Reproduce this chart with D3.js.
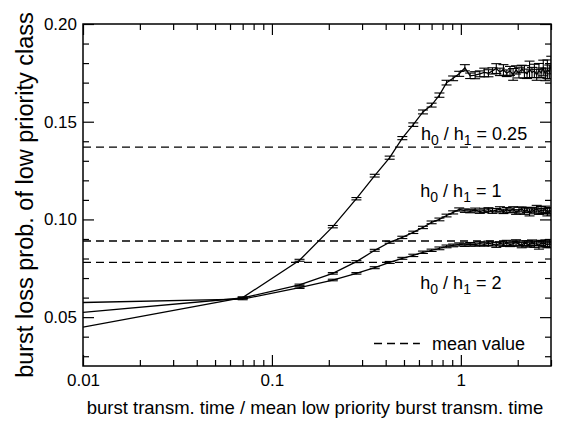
<!DOCTYPE html>
<html>
<head>
<meta charset="utf-8">
<script src="https://cdn.jsdelivr.net/npm/d3@7"></script>
<style>
  body { margin: 0; background: #ffffff; }
  svg { display: block; font-family: "Liberation Sans", Arial, Helvetica, sans-serif; }
  .axis text { font-size: 17px; fill: #000; }
  .axis line { stroke: #000; stroke-width: 1.2; }
</style>
</head>
<body>
<svg id="chart"></svg>
<script>
// burst transm. time / mean low priority burst transm. time
const xValues = [0.01, 0.07, 0.14, 0.21, 0.28, 0.35, 0.42, 0.49, 0.56, 0.63, 0.70, 0.77, 0.84, 0.91, 0.98,
  1.05, 1.12, 1.19, 1.26, 1.33, 1.40, 1.47, 1.54, 1.61, 1.68, 1.75, 1.82, 1.89, 1.96, 2.03,
  2.10, 2.17, 2.24, 2.31, 2.38, 2.45, 2.52, 2.59, 2.66, 2.73, 2.80, 2.87, 2.94, 3.01];

// h0 / h1 = 0.25
const lossA = [0.0449, 0.0600, 0.0791, 0.0963, 0.1106, 0.1224, 0.1316, 0.1416, 0.1485, 0.1550, 0.1585, 0.1636, 0.1700, 0.1722, 0.1745,
  0.1776, 0.1735, 0.1738, 0.1745, 0.1752, 0.1748, 0.1760, 0.1772, 0.1755, 0.1765, 0.1748, 0.1760, 0.1742, 0.1765, 0.1750,
  0.1770, 0.1755, 0.1745, 0.1768, 0.1752, 0.1760, 0.1740, 0.1762, 0.1750, 0.1775, 0.1742, 0.1768, 0.1755, 0.1790];
const errA = [0.0003, 0.0004, 0.0005, 0.0006, 0.0006, 0.0007, 0.0008, 0.0008, 0.0009, 0.0010, 0.0010, 0.0011, 0.0012, 0.0012, 0.0013,
  0.0016, 0.0014, 0.0018, 0.0015, 0.0022, 0.0018, 0.0016, 0.0025, 0.0019, 0.0027, 0.0017, 0.0023, 0.0030, 0.0021, 0.0026,
  0.0019, 0.0032, 0.0024, 0.0042, 0.0026, 0.0034, 0.0028, 0.0036, 0.0025, 0.0040, 0.0032, 0.0048, 0.0035, 0.0045];

// h0 / h1 = 1
const lossB = [0.0524, 0.0598, 0.0665, 0.0724, 0.0784, 0.0842, 0.0883, 0.0908, 0.0934, 0.0959, 0.0985, 0.1000, 0.1020, 0.1036, 0.1051,
  0.1045, 0.1042, 0.1048, 0.1040, 0.1046, 0.1050, 0.1043, 0.1047, 0.1052, 0.1041, 0.1049, 0.1044, 0.1051, 0.1038, 0.1047,
  0.1053, 0.1042, 0.1048, 0.1036, 0.1050, 0.1044, 0.1055, 0.1040, 0.1047, 0.1043, 0.1052, 0.1038, 0.1046, 0.1041];
const errB = [0.0003, 0.0003, 0.0004, 0.0004, 0.0005, 0.0005, 0.0005, 0.0006, 0.0006, 0.0006, 0.0007, 0.0007, 0.0007, 0.0008, 0.0008,
  0.0009, 0.0008, 0.0010, 0.0009, 0.0011, 0.0010, 0.0012, 0.0009, 0.0013, 0.0011, 0.0012, 0.0010, 0.0014, 0.0012, 0.0015,
  0.0011, 0.0016, 0.0013, 0.0018, 0.0012, 0.0015, 0.0017, 0.0014, 0.0019, 0.0013, 0.0016, 0.0020, 0.0015, 0.0018];

// h0 / h1 = 2
const lossC = [0.0575, 0.0592, 0.0651, 0.0690, 0.0724, 0.0753, 0.0780, 0.0801, 0.0816, 0.0832, 0.0842, 0.0852, 0.0862, 0.0867, 0.0872,
  0.0870, 0.0873, 0.0871, 0.0876, 0.0872, 0.0878, 0.0874, 0.0869, 0.0877, 0.0873, 0.0880, 0.0871, 0.0876, 0.0882, 0.0874,
  0.0868, 0.0879, 0.0875, 0.0870, 0.0881, 0.0873, 0.0877, 0.0866, 0.0880, 0.0874, 0.0878, 0.0869, 0.0876, 0.0872];
const errC = [0.0003, 0.0003, 0.0004, 0.0004, 0.0004, 0.0005, 0.0005, 0.0005, 0.0006, 0.0006, 0.0006, 0.0007, 0.0007, 0.0007, 0.0008,
  0.0008, 0.0009, 0.0008, 0.0010, 0.0009, 0.0011, 0.0010, 0.0012, 0.0009, 0.0011, 0.0013, 0.0010, 0.0012, 0.0014, 0.0011,
  0.0013, 0.0012, 0.0015, 0.0011, 0.0014, 0.0016, 0.0012, 0.0018, 0.0013, 0.0015, 0.0017, 0.0014, 0.0019, 0.0016];

const meanValues = [0.137, 0.089, 0.078];

const seriesLabels = [
  { ratio: '0.25', value: 0.1405, xv: 0.615 },
  { ratio: '1', value: 0.1115, xv: 0.61 },
  { ratio: '2', value: 0.0645, xv: 0.61 }
];

const xMajorTicks = [0.01, 0.1, 1];
const xMinorTicks = [0.02, 0.03, 0.04, 0.05, 0.06, 0.07, 0.08, 0.09, 0.2, 0.3, 0.4, 0.5, 0.6, 0.7, 0.8, 0.9, 2, 3];
const yMajorTicks = [0.05, 0.10, 0.15, 0.20];
const yMinorTicks = [0.03, 0.04, 0.06, 0.07, 0.08, 0.09, 0.11, 0.12, 0.13, 0.14, 0.16, 0.17, 0.18, 0.19];

(function() {
  'use strict';

  const width = 562, height = 423;
  const margin = { top: 24, right: 11, bottom: 57, left: 83 };
  const innerWidth = width - margin.left - margin.right;
  const innerHeight = height - margin.top - margin.bottom;

  const svg = d3.select('#chart')
    .attr('width', width)
    .attr('height', height);

  const g = svg.append('g')
    .attr('transform', `translate(${margin.left}, ${margin.top})`);

  const x = d3.scaleLog().domain([0.01, 3]).range([0, innerWidth]);
  const y = d3.scaleLinear().domain([0.025, 0.2]).range([innerHeight, 0]);

  svg.append('defs').append('clipPath').attr('id', 'plot-clip')
    .append('rect').attr('width', innerWidth).attr('height', innerHeight);

  // Axes: ticks point inward on all four sides
  function addAxis(axisFn, ticks, size, labels, transform, pad) {
    const vertical = axisFn === d3.axisLeft || axisFn === d3.axisRight;
    const axis = axisFn(vertical ? y : x)
      .tickValues(ticks)
      .tickSize(-size)
      .tickPadding(pad || 6);
    if (!labels) axis.tickFormat('');
    else if (vertical) axis.tickFormat(d3.format('.2f'));
    else axis.tickFormat(d => String(d));
    const a = g.append('g').attr('class', 'axis').attr('transform', transform).call(axis);
    a.select('.domain').remove();
    return a;
  }

  addAxis(d3.axisBottom, xMajorTicks, 11, true, `translate(0, ${innerHeight})`, 8);
  addAxis(d3.axisBottom, xMinorTicks, 6, false, `translate(0, ${innerHeight})`);
  addAxis(d3.axisTop, xMajorTicks, 11, false, 'translate(0, 0)');
  addAxis(d3.axisTop, xMinorTicks, 6, false, 'translate(0, 0)');
  addAxis(d3.axisLeft, yMajorTicks, 11, true, 'translate(0, 0)', 6);
  addAxis(d3.axisLeft, yMinorTicks, 6, false, 'translate(0, 0)');
  addAxis(d3.axisRight, yMajorTicks, 11, false, `translate(${innerWidth}, 0)`);
  addAxis(d3.axisRight, yMinorTicks, 6, false, `translate(${innerWidth}, 0)`);

  // Mean value lines
  g.append('g').selectAll('line')
    .data(meanValues)
    .join('line')
    .attr('x1', 0)
    .attr('x2', innerWidth)
    .attr('y1', d => y(d))
    .attr('y2', d => y(d))
    .attr('stroke', '#000')
    .attr('stroke-width', 1.4)
    .attr('stroke-dasharray', '8,5');

  // Curves with error bars
  const plot = g.append('g').attr('clip-path', 'url(#plot-clip)');
  const line = d3.line().x(d => x(d.x)).y(d => y(d.y));

  [[lossA, errA], [lossB, errB], [lossC, errC]].forEach(([vals, errs]) => {
    const pts = xValues.map((xv, i) => ({ x: xv, y: vals[i], e: errs[i] }));

    plot.append('path')
      .datum(pts)
      .attr('d', line)
      .attr('fill', 'none')
      .attr('stroke', '#000')
      .attr('stroke-width', 1.3);

    const bars = plot.append('g')
      .attr('stroke', '#000')
      .attr('stroke-width', 1.1)
      .selectAll('g')
      .data(pts.slice(1))
      .join('g');

    bars.append('line')
      .attr('x1', d => x(d.x)).attr('x2', d => x(d.x))
      .attr('y1', d => y(d.y - d.e)).attr('y2', d => y(d.y + d.e));
    bars.append('line')
      .attr('x1', d => x(d.x) - 5).attr('x2', d => x(d.x) + 5)
      .attr('y1', d => y(d.y - d.e)).attr('y2', d => y(d.y - d.e));
    bars.append('line')
      .attr('x1', d => x(d.x) - 5).attr('x2', d => x(d.x) + 5)
      .attr('y1', d => y(d.y + d.e)).attr('y2', d => y(d.y + d.e));
  });

  // Frame
  g.append('rect')
    .attr('width', innerWidth)
    .attr('height', innerHeight)
    .attr('fill', 'none')
    .attr('stroke', '#000')
    .attr('stroke-width', 1.5);

  // Series labels: h0 / h1 = ...
  seriesLabels.forEach(s => {
    const t = g.append('text')
      .attr('x', x(s.xv))
      .attr('y', y(s.value))
      .style('font-size', '18px')
      .attr('fill', '#000');
    t.append('tspan').text('h');
    t.append('tspan').attr('dy', 5).style('font-size', '14px').text('0');
    t.append('tspan').attr('dy', -5).text(' / h');
    t.append('tspan').attr('dy', 5).style('font-size', '14px').text('1');
    t.append('tspan').attr('dy', -5).text(' = ' + s.ratio);
  });

  // Legend
  const legendY = y(0.0365);
  g.append('line')
    .attr('x1', x(0.347)).attr('x2', x(0.607))
    .attr('y1', legendY).attr('y2', legendY)
    .attr('stroke', '#000')
    .attr('stroke-width', 1.4)
    .attr('stroke-dasharray', '8,5');
  g.append('text')
    .attr('x', x(0.703))
    .attr('y', legendY + 6.5)
    .style('font-size', '18px')
    .text('mean value');

  // Axis titles
  svg.append('text')
    .attr('x', margin.left + innerWidth / 2 - 2)
    .attr('y', 414)
    .attr('text-anchor', 'middle')
    .style('font-size', '18.5px')
    .text('burst transm. time / mean low priority burst transm. time');

  svg.append('text')
    .attr('transform', `translate(33, ${margin.top + innerHeight / 2}) rotate(-90)`)
    .attr('text-anchor', 'middle')
    .style('font-size', '23.5px')
    .text('burst loss prob. of low priority class');
})();
</script>
</body>
</html>
